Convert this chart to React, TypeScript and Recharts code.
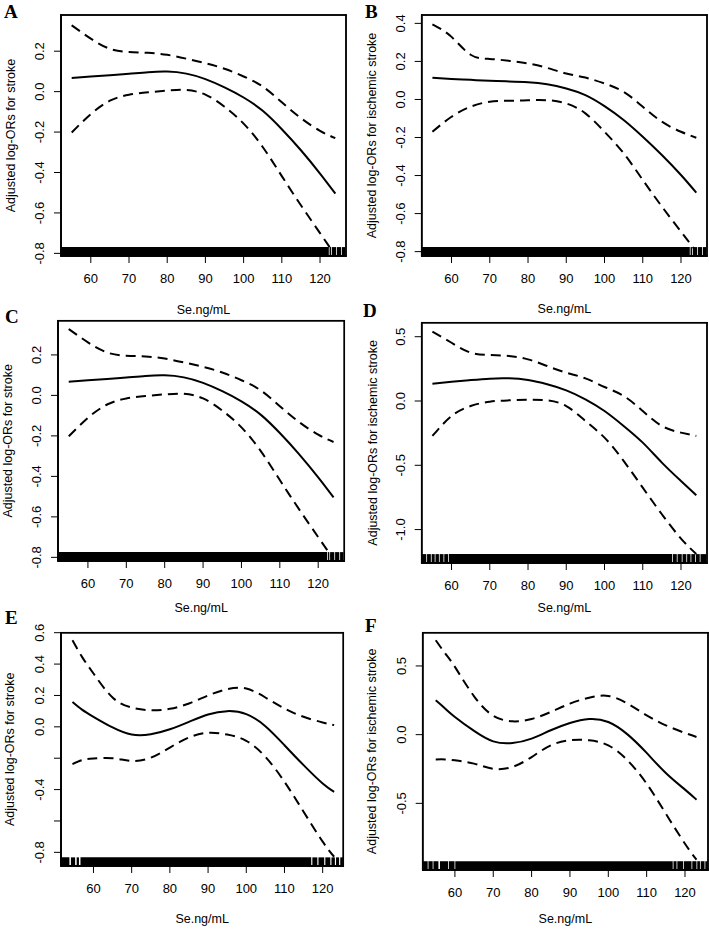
import React from "react";
import { ComposedChart, Line, XAxis, YAxis, ReferenceArea } from "recharts";

const FONT = '"Liberation Sans", Arial, Helvetica, sans-serif';

// Se (ng/mL) grid the fitted curves were read at
const seABC = [55, 60, 65, 70, 75, 80, 85, 90, 95, 100, 105, 110, 115, 120, 124];
const seE = [54.5, 57, 60, 65, 70, 75, 80, 85, 90, 95, 100, 105, 110, 115, 120, 123];
const seF = [55, 57.5, 60, 65, 70, 75, 80, 85, 90, 95, 100, 105, 110, 115, 120, 123];

// A / C: stroke
const fitA = [0.068, 0.075, 0.081, 0.088, 0.096, 0.099, 0.089, 0.062, 0.021, -0.029, -0.095, -0.186, -0.29, -0.405, -0.504];
const upperA = [0.328, 0.262, 0.212, 0.196, 0.192, 0.182, 0.163, 0.141, 0.113, 0.075, 0.025, -0.053, -0.131, -0.194, -0.23];
const lowerA = [-0.202, -0.111, -0.045, -0.015, -0.003, 0.005, 0.008, -0.015, -0.075, -0.158, -0.274, -0.418, -0.562, -0.7, -0.81];

// B: ischemic stroke
const fitB = [0.114, 0.108, 0.103, 0.098, 0.095, 0.091, 0.08, 0.058, 0.023, -0.035, -0.108, -0.196, -0.292, -0.397, -0.49];
const upperB = [0.395, 0.329, 0.235, 0.213, 0.203, 0.189, 0.166, 0.136, 0.115, 0.084, 0.04, -0.038, -0.117, -0.17, -0.201];
const lowerB = [-0.17, -0.091, -0.038, -0.012, -0.007, -0.004, -0.004, -0.021, -0.073, -0.17, -0.283, -0.423, -0.563, -0.695, -0.8];

// D: ischemic stroke
const fitD = [0.135, 0.15, 0.163, 0.174, 0.176, 0.163, 0.13, 0.083, 0.013, -0.078, -0.194, -0.324, -0.479, -0.622, -0.733];
const upperD = [0.539, 0.453, 0.376, 0.358, 0.35, 0.324, 0.272, 0.22, 0.176, 0.109, 0.039, -0.078, -0.194, -0.246, -0.272];
const lowerD = [-0.272, -0.117, -0.039, -0.005, 0.005, 0.01, 0.005, -0.039, -0.155, -0.285, -0.466, -0.674, -0.881, -1.07, -1.19];

// E: stroke
const fitE = [0.159, 0.11, 0.064, -0.004, -0.049, -0.047, -0.015, 0.032, 0.079, 0.1, 0.081, 0.004, -0.117, -0.244, -0.361, -0.414];
const upperE = [0.552, 0.446, 0.34, 0.187, 0.123, 0.106, 0.115, 0.149, 0.2, 0.24, 0.244, 0.187, 0.117, 0.064, 0.028, 0.011];
const lowerE = [-0.238, -0.212, -0.202, -0.2, -0.217, -0.197, -0.132, -0.068, -0.038, -0.049, -0.089, -0.191, -0.35, -0.541, -0.732, -0.828];

// F: ischemic stroke
const fitF = [0.25, 0.189, 0.129, 0.027, -0.049, -0.061, -0.029, 0.032, 0.085, 0.114, 0.092, 0.002, -0.133, -0.279, -0.4, -0.473];
const upperF = [0.687, 0.59, 0.493, 0.279, 0.138, 0.097, 0.114, 0.165, 0.226, 0.269, 0.282, 0.226, 0.141, 0.068, 0.012, -0.017];
const lowerF = [-0.18, -0.18, -0.187, -0.211, -0.248, -0.235, -0.163, -0.078, -0.041, -0.041, -0.078, -0.187, -0.357, -0.575, -0.794, -0.91];

// rug of observed Se values, as dense stretches [from, to]
const rugABC = [[52.2, 122.3], [122.5, 122.9], [123.1, 124.2], [124.4, 125.5], [125.7, 126.6]];
const rugD = [[52.3, 53.4], [53.6, 54.6], [54.8, 55.6], [55.8, 56.7], [56.9, 57.9], [58.1, 59.1], [59.3, 117.7],
  [117.9, 118.9], [119.1, 120.2], [120.4, 121.4], [121.6, 122.5], [122.7, 123.7], [123.9, 124.9], [125.1, 126.6]];
const rugE = [[51.6, 53.7], [54.1, 55.2], [55.6, 56.2], [56.6, 117.0], [117.3, 118.6], [118.9, 120.4],
  [120.7, 122.0], [122.3, 123.2], [123.5, 124.3], [124.6, 125.3]];
const rugF = [[51.7, 52.9], [53.1, 54.2], [54.4, 55.7], [56.1, 58.2], [58.4, 59.9], [60.1, 116.8], [117.0, 117.8],
  [118.0, 119.5], [119.7, 121.7], [121.9, 123.0], [123.2, 123.9], [124.1, 125.1], [125.3, 125.9]];

const xTicks = [60, 70, 80, 90, 100, 110, 120];
const yTicksAC = [0.2, 0, -0.2, -0.4, -0.6, -0.8];
const yTicksB = [0.4, 0.2, 0, -0.2, -0.4, -0.6, -0.8];
const yTicksD = [0.5, 0, -0.5, -1.0];
const yTicksE = [0.6, 0.4, 0.2, 0, -0.2, -0.4, -0.6, -0.8];
const yHiddenE = [-0.2, -0.6];
const yTicksF = [0.5, 0, -0.5];

const titleStroke = "Adjusted log-ORs for stroke";
const titleIschemic = "Adjusted log-ORs for ischemic stroke";

// page layout: the plot box of each panel
const boxA = { l: 61, r: 346, t: 15, b: 256 };
const boxB = { l: 421.7, r: 707, t: 15, b: 256 };
const boxC = { l: 58, r: 344.3, t: 320.7, b: 561 };
const boxD = { l: 421.7, r: 707, t: 322.7, b: 563 };
const boxE = { l: 61, r: 343.3, t: 632.7, b: 866 };
const boxF = { l: 422.7, r: 708, t: 632.7, b: 870 };

const RotTick = (props: any) => {
  const { x, y, payload, hidden } = props;
  if (hidden && hidden.includes(payload.value)) return <g />;
  const bx = x - 8;
  return (
    <text x={bx} y={y} transform={`rotate(-90 ${bx} ${y})`} textAnchor="middle"
      fontSize={13} fontFamily={FONT} fill="#000">
      {Number(payload.value).toFixed(1)}
    </text>
  );
};

const Panel = (p: any) => {
  const { left, top, width, height, box } = p;
  const data = p.xs.map((x: number, i: number) => ({ x, fit: p.fit[i], upper: p.upper[i], lower: p.lower[i] }));
  const [x0, x1] = p.xDomain;
  const [y0, y1] = p.yDomain;
  const rugH = (y1 - y0) * 0.037;
  // frame edge thickness (~1.4px) in data units
  const ex = ((x1 - x0) / (box.r - box.l)) * 0.7;
  const ey = ((y1 - y0) / (box.b - box.t)) * 0.7;
  const edges = [
    [x0 - ex, x1 + ex, y1 - ey, y1 + ey],
    [x0 - ex, x1 + ex, y0 - ey, y0 + ey],
    [x0 - ex, x0 + ex, y0 - ey, y1 + ey],
    [x1 - ex, x1 + ex, y0 - ey, y1 + ey],
  ];
  return (
    <div style={{ position: "absolute", left, top, width, height }}>
      <ComposedChart
        width={width}
        height={height}
        data={data}
        margin={{ top: box.t - top, right: left + width - box.r, left: 0, bottom: 0 }}
      >
        <XAxis
          type="number"
          dataKey="x"
          domain={p.xDomain}
          ticks={xTicks}
          interval={0}
          allowDataOverflow
          height={top + height - box.b}
          axisLine={{ stroke: "#000", strokeWidth: 1.5 }}
          tickSize={7}
          tickMargin={11}
          tickLine={{ stroke: "#000" }}
          tick={{ fill: "#000", fontSize: 13, fontFamily: FONT }}
          label={{ value: "Se.ng/mL", position: "insideBottom", offset: p.xTitleOffset, fill: "#000", fontSize: 12.5, fontFamily: FONT }}
        />
        <YAxis
          type="number"
          domain={p.yDomain}
          ticks={p.yTicks}
          interval={0}
          allowDataOverflow
          width={box.l - left}
          axisLine={{ stroke: "#000", strokeWidth: 1.5 }}
          tickSize={7}
          tickMargin={2}
          tickLine={{ stroke: "#000" }}
          tick={(t: any) => <RotTick {...t} hidden={p.yHidden} />}
          label={{ value: p.yTitle, angle: -90, position: "insideLeft", offset: p.yTitleOffset, style: { textAnchor: "middle" }, fill: "#000", fontSize: 12.5, fontFamily: FONT }}
        />
        {p.rug.map((b: number[], i: number) => (
          <ReferenceArea key={"r" + i} x1={b[0]} x2={b[1]} y1={y0} y2={y0 + rugH} fill="#000" fillOpacity={1} stroke="none" ifOverflow="visible" />
        ))}
        {edges.map((e, i) => (
          <ReferenceArea key={"e" + i} x1={e[0]} x2={e[1]} y1={e[2]} y2={e[3]} fill="#000" fillOpacity={1} stroke="none" ifOverflow="visible" />
        ))}
        <Line type="natural" dataKey="upper" stroke="#000" strokeWidth={2} strokeDasharray="10 6" dot={false} activeDot={false} isAnimationActive={false} />
        <Line type="natural" dataKey="lower" stroke="#000" strokeWidth={2} strokeDasharray="10 6" dot={false} activeDot={false} isAnimationActive={false} />
        <Line type="natural" dataKey="fit" stroke="#000" strokeWidth={2} dot={false} activeDot={false} isAnimationActive={false} />
      </ComposedChart>
    </div>
  );
};

export default function App() {
  const letter = { fontFamily: '"Liberation Serif", "Times New Roman", serif', fontWeight: 700, fontSize: 19, fill: "#000" };
  const boxes = [boxA, boxB, boxC, boxD, boxE, boxF];
  return (
    <div style={{ position: "absolute", left: 0, top: 0, width: 709, height: 932, background: "#fff" }}>
      <Panel left={0} top={0} width={354} height={320} box={boxA}
        xDomain={[52.2, 126.8]} yDomain={[-0.813, 0.379]} yTicks={yTicksAC}
        xs={seABC} fit={fitA} upper={upperA} lower={lowerA} rug={rugABC}
        yTitle={titleStroke} xTitleOffset={6} yTitleOffset={11} />
      <Panel left={355} top={0} width={354} height={320} box={boxB}
        xDomain={[52.2, 126.8]} yDomain={[-0.823, 0.444]} yTicks={yTicksB}
        xs={seABC} fit={fitB} upper={upperB} lower={lowerB} rug={rugABC}
        yTitle={titleIschemic} xTitleOffset={7} yTitleOffset={16.7} />
      <Panel left={0} top={300} width={354} height={320} box={boxC}
        xDomain={[52.2, 126.8]} yDomain={[-0.818, 0.369]} yTicks={yTicksAC}
        xs={seABC} fit={fitA} upper={upperA} lower={lowerA} rug={rugABC}
        yTitle={titleStroke} xTitleOffset={8} yTitleOffset={8} />
      <Panel left={355} top={300} width={354} height={320} box={boxD}
        xDomain={[52.2, 126.8]} yDomain={[-1.26, 0.609]} yTicks={yTicksD}
        xs={seABC} fit={fitD} upper={upperD} lower={lowerD} rug={rugD}
        yTitle={titleIschemic} xTitleOffset={8} yTitleOffset={18} />
      <Panel left={0} top={612} width={354} height={320} box={boxE}
        xDomain={[51.5, 125.4]} yDomain={[-0.887, 0.6]} yTicks={yTicksE} yHidden={yHiddenE}
        xs={seE} fit={fitE} upper={upperE} lower={lowerE} rug={rugE}
        yTitle={titleStroke} xTitleOffset={9} yTitleOffset={10} />
      <Panel left={355} top={612} width={354} height={320} box={boxF}
        xDomain={[51.6, 126.0]} yDomain={[-0.985, 0.742]} yTicks={yTicksF}
        xs={seF} fit={fitF} upper={upperF} lower={lowerF} rug={rugF}
        yTitle={titleIschemic} xTitleOffset={9} yTitleOffset={16.7} />
      <svg width={709} height={932} style={{ position: "absolute", left: 0, top: 0 }}>
        {boxes.map((b, i) => (
          <rect key={i} x={b.l} y={b.t} width={b.r - b.l} height={b.b - b.t} fill="none" stroke="#000" strokeWidth={1.5} />
        ))}
        <text x={4} y={18} style={letter}>A</text>
        <text x={365} y={18} style={letter}>B</text>
        <text x={5} y={323} style={letter}>C</text>
        <text x={363} y={317} style={letter}>D</text>
        <text x={5} y={624} style={letter}>E</text>
        <text x={365} y={632} style={letter}>F</text>
      </svg>
    </div>
  );
}
